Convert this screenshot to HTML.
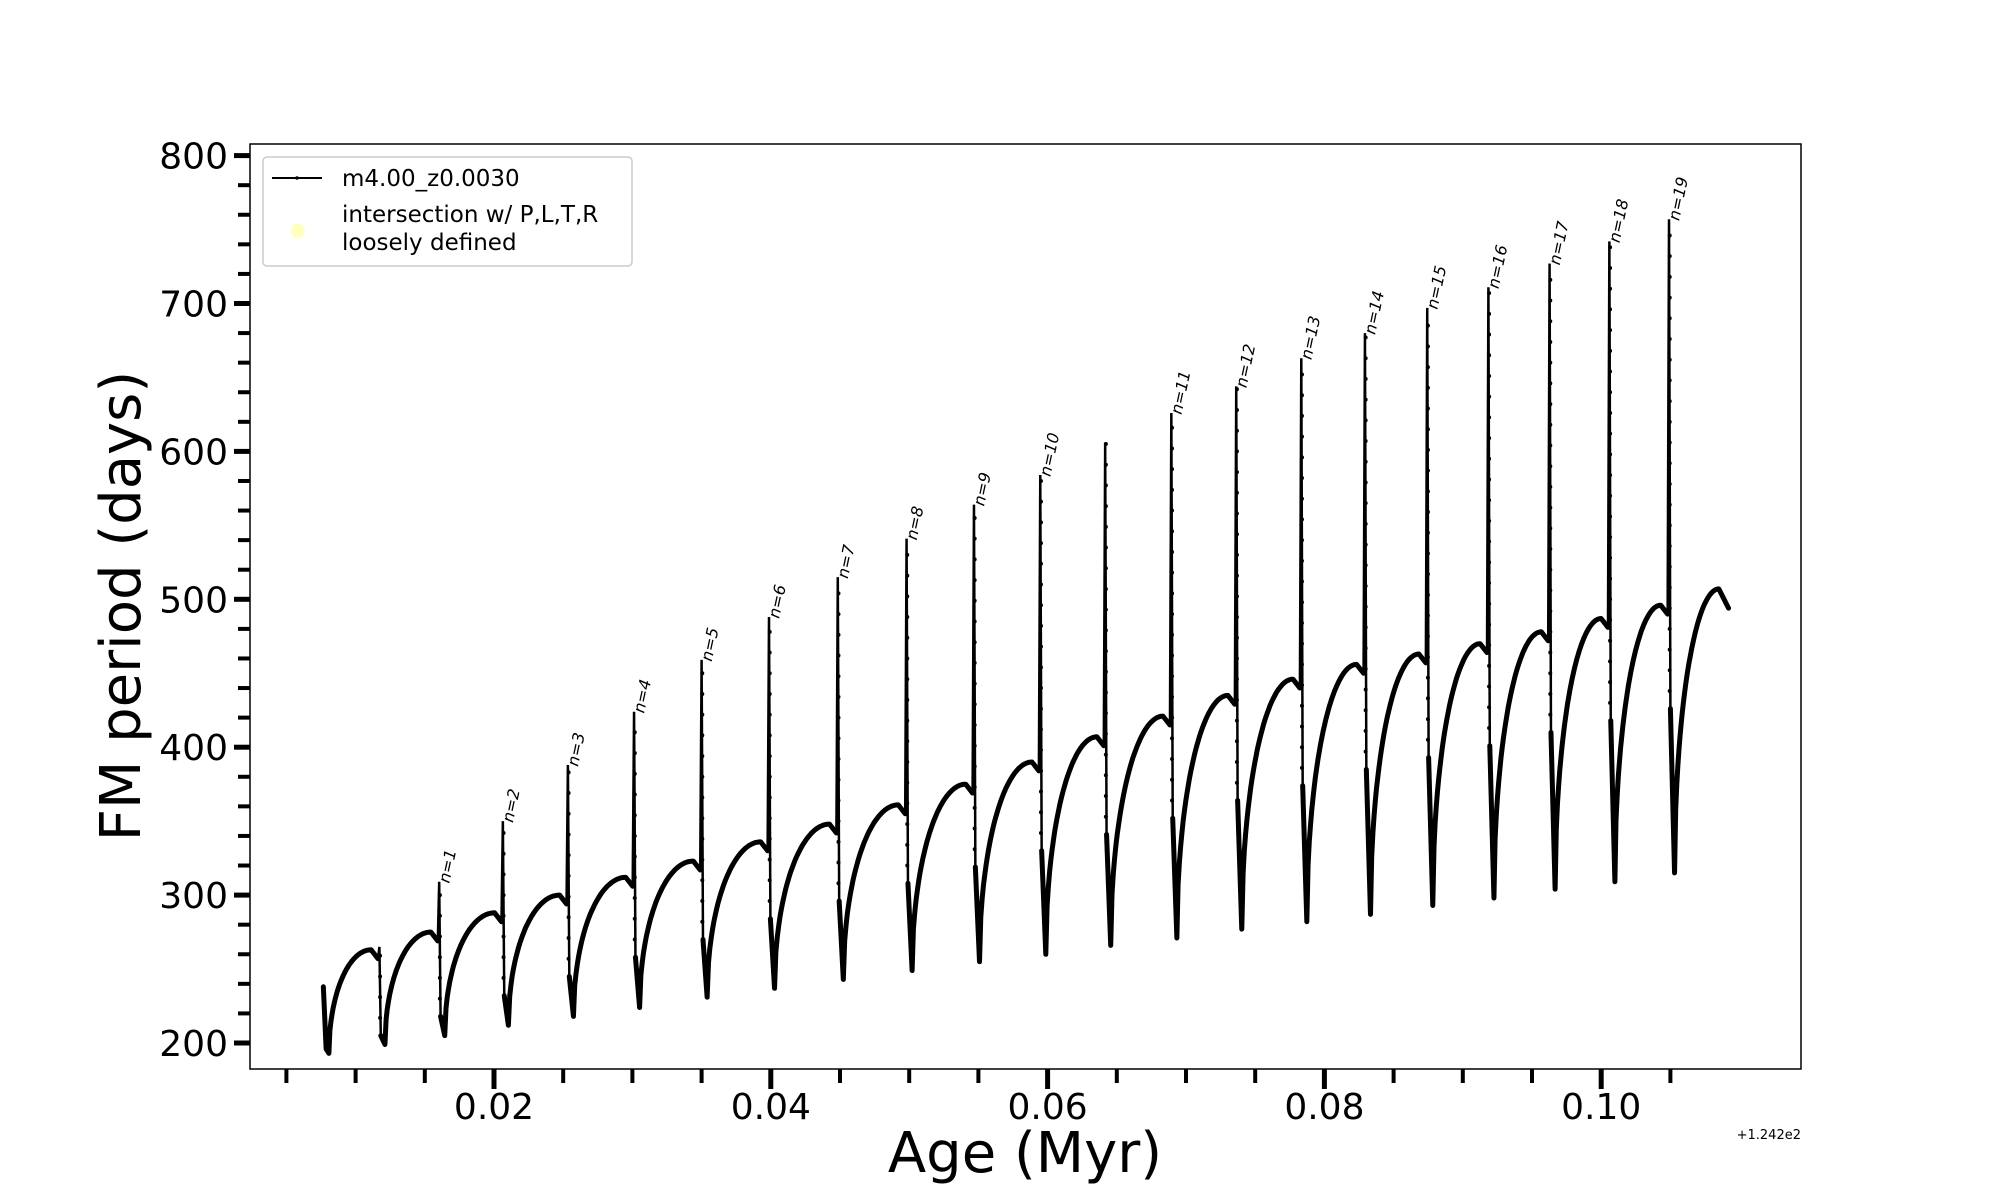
<!DOCTYPE html>
<html><head><meta charset="utf-8"><style>
html,body{margin:0;padding:0;background:#fff;}
svg{display:block;font-family:"DejaVu Sans","Liberation Sans",sans-serif;}
</style></head><body>
<svg id="chart" width="2000" height="1200" viewBox="0 0 2000 1200" xmlns="http://www.w3.org/2000/svg">
<rect x="0" y="0" width="2000" height="1200" fill="#fff"/>
<g id="axes"></g>
<g id="series"></g>
<g id="labels"></g>
<rect x="250" y="144" width="1551" height="925" fill="none" stroke="#000" stroke-width="1.5"/>
<g>
<rect x="263" y="157" width="369" height="109" rx="4" fill="#fff" fill-opacity="0.8" stroke="#ccc" stroke-width="1.5"/>
<g>
<line x1="272" y1="178" x2="322" y2="178" stroke="#000" stroke-width="2"/>
<circle cx="297" cy="178" r="1.8" fill="#000"/>
<text x="342" y="186" font-size="23">m4.00_z0.0030</text>
</g>
<g>
<ellipse cx="298" cy="231" rx="7" ry="7.5" fill="#ffffc0"/>
<text x="342" y="222" font-size="23">intersection w/ P,L,T,R</text>
<text x="342" y="250" font-size="23">loosely defined</text>
</g>
</g>
<text transform="translate(140,606) rotate(-90)" text-anchor="middle" font-size="56">FM period (days)</text>
<text x="1025" y="1172" text-anchor="middle" font-size="56">Age (Myr)</text>
<text x="1801" y="1139" text-anchor="end" font-size="13">+1.242e2</text>
</svg>
<script>
// Data (x in Myr offset from 124.2, y in days)
const startT = 0.00767;
const startY = 238;
const pulseT = [0.01172,0.01604,0.02064,0.02534,0.03012,0.0350,0.03987,0.04484,0.04981,0.05468,0.05947,0.06416,0.06894,0.07363,0.07833,0.08293,0.08743,0.09185,0.09627,0.10059,0.1049];
const peakY = [265,309,350,388,424,459,488,515,541,564,584,606,626,644,663,680,697,711,727,742,757];
const dropY = [205,218,232,245,258,270,284,296,308,319,330,341,352,364,374,385,393,401,410,418,426];
const minY = [193,199,205,212,218,224,231,237,243,249,255,260,266,271,277,282,287,293,298,304,309,315];
const maxY = [263,275,288,300,312,323,336,348,361,375,390,407,421,435,446,456,463,470,478,487,496,507];
const endT = 0.1092;
const endY = 494;
const labelNames = ["","n=1","n=2","n=3","n=4","n=5","n=6","n=7","n=8","n=9","n=10","","n=11","n=12","n=13","n=14","n=15","n=16","n=17","n=18","n=19"];
const yTicks = [200,300,400,500,600,700,800];
const xTicks = [0.02,0.04,0.06,0.08,0.10];
const xTickLabels = ["0.02","0.04","0.06","0.08","0.10"];

const X0=250,X1=1801,Y0=144,Y1=1069;
function sx(t){return 494+(t-0.02)/0.01*138.4;}
function sy(v){return 1043-(v-200)*1.479;}
const NS="http://www.w3.org/2000/svg";
function mk(tag,attrs,parent){const e=document.createElementNS(NS,tag);for(const k in attrs)e.setAttribute(k,attrs[k]);parent.appendChild(e);return e;}

const axes=document.getElementById('axes');
for(let v=200;v<=800;v+=20){
  const major=(v%100===0);
  const t=mk('line',{x1:X0-(major?16:12),x2:X0,y1:sy(v),y2:sy(v),stroke:'#000','stroke-width':major?5:4},axes);
  
  
}
yTicks.forEach(v=>{
  const t=mk('text',{x:X0-22,y:sy(v)+13,'text-anchor':'end','font-size':36},axes);
  t.textContent=v;
  
  
});
for(let i=1;i<=21;i++){
  const t0=i*0.005;const major=(i%4===0);
  const t=mk('line',{x1:sx(t0),x2:sx(t0),y1:Y1,y2:Y1+(major?20:14),stroke:'#000','stroke-width':major?5:4},axes);
  
  
}
xTicks.forEach((v,i)=>{
  const t=mk('text',{x:sx(v),y:1119,'text-anchor':'middle','font-size':36},axes);
  t.textContent=xTickLabels[i];
  
  
});

const series=document.getElementById('series');
const lab=document.getElementById('labels');
const MINOFF=0.0004;
function riseSeg(t0,y0,t1,y1){
  let d='';
  const N=40;
  for(let k=1;k<=N;k++){
    const u=k/N;
    const f=Math.sqrt(1-(1-u)*(1-u));
    d+=' L'+sx(t0+(t1-t0)*u).toFixed(1)+','+sy(y0+(y1-y0)*f).toFixed(1);
  }
  return d;
}
let d='M'+sx(startT)+','+sy(startY)+' L'+sx(startT+MINOFF*0.5)+','+sy(minY[0]+3)+' L'+sx(startT+MINOFF)+','+sy(minY[0]);
let tPrev=startT+MINOFF;
for(let i=0;i<pulseT.length;i++){
  const tp=pulseT[i];
  d+=riseSeg(tPrev,minY[i],tp-0.0006,maxY[i]);
  d+=' L'+sx(tp-0.0001)+','+sy(maxY[i]-6);
  const sp=mk('path',{d:'M'+sx(tp-0.0001)+','+sy(maxY[i]-6)+' L'+sx(tp)+','+sy(peakY[i])+' L'+sx(tp+0.0001)+','+sy(dropY[i]),fill:'none',stroke:'#000','stroke-width':2.5},series);
  
  
  for(let v=dropY[i]+12;v<peakY[i];v+=14){
    const c=mk('circle',{cx:sx(tp+0.00005),cy:sy(v),r:2,fill:'#000'},series);
    
    
  }
  d+=' M'+sx(tp+0.0001)+','+sy(dropY[i]);
  d+=' L'+sx(tp+MINOFF)+','+sy(minY[i+1]);
  tPrev=tp+MINOFF;
  if(labelNames[i]){
    const t=mk('text',{transform:'translate('+(sx(tp)+10)+','+(sy(peakY[i])+2)+') rotate(-78)','font-size':16,'font-style':'italic'},lab);
    t.textContent=labelNames[i];
    
    
  }
}
d+=riseSeg(tPrev,minY[minY.length-1],endT-0.0007,maxY[maxY.length-1]);
d+=' L'+sx(endT)+','+sy(endY);
const p=mk('path',{d:d,fill:'none',stroke:'#000','stroke-width':5,'stroke-linejoin':'round','stroke-linecap':'round'},series);


</script>
</body></html>
